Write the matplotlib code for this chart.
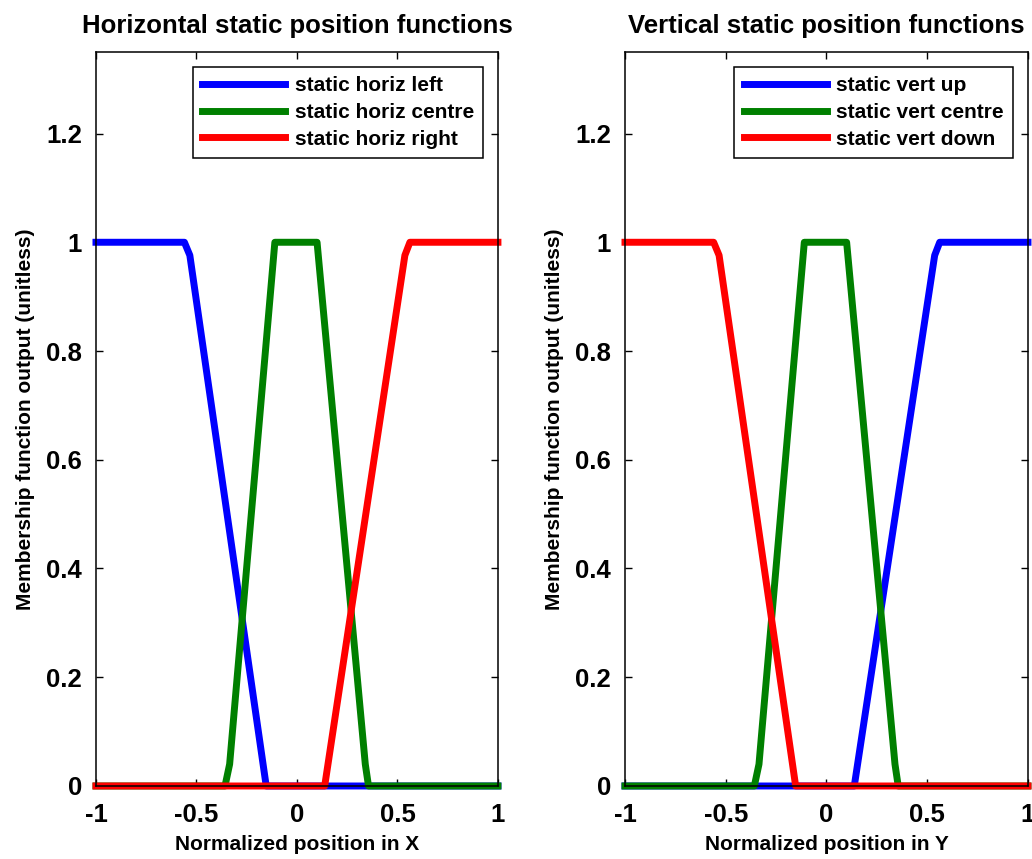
import matplotlib
matplotlib.use("Agg")
from matplotlib import pyplot as plt

# trapezoid vertices of the three position membership functions
left_x = [-1, -0.56, -0.533, -0.153, 1]
left_y = [1, 1, 0.976, 0, 0]
centre_x = [-1, -0.358, -0.335, -0.11, 0.1, 0.34, 0.356, 1]
centre_y = [0, 0, 0.04, 1, 1, 0.04, 0, 0]
right_x = [-1, 0.138, 0.537, 0.562, 1]
right_y = [0, 0, 0.976, 1, 1]

xticks = [-1, -0.5, 0, 0.5, 1]
xticklabels = ["-1", "-0.5", "0", "0.5", "1"]
yticks = [0, 0.2, 0.4, 0.6, 0.8, 1, 1.2]
yticklabels = ["0", "0.2", "0.4", "0.6", "0.8", "1", "1.2"]

plt.rcParams['font.family'] = ['Liberation Sans', 'DejaVu Sans']
plt.rcParams['font.weight'] = 'bold'

fig = plt.figure(figsize=(10.32, 8.59), dpi=100)
ax1 = fig.add_axes([0.093, 0.085, 0.3895, 0.8545])
ax2 = fig.add_axes([0.6056, 0.085, 0.3905, 0.8545])

colors = {"b": (0, 0, 1), "g": (0, 0.5, 0), "r": (1, 0, 0)}

panels = [
    (ax1, "Horizontal static position functions", "Normalized position in X",
     [(left_x, left_y, "b", "static horiz left"),
      (centre_x, centre_y, "g", "static horiz centre"),
      (right_x, right_y, "r", "static horiz right")]),
    (ax2, "Vertical static position functions", "Normalized position in Y",
     [(right_x, right_y, "b", "static vert up"),
      (centre_x, centre_y, "g", "static vert centre"),
      (left_x, left_y, "r", "static vert down")]),
]

for ax, title, xlabel, series in panels:
    for xs, ys, col, lab in series:
        ax.plot(xs, ys, color=colors[col], linewidth=5, label=lab,
                solid_joinstyle='round', clip_on=False)
    ax.set_xlim(-1, 1)
    ax.set_ylim(0, 1.35)
    ax.set_xticks(xticks)
    ax.set_xticklabels(xticklabels)
    ax.set_yticks(yticks)
    ax.set_yticklabels(yticklabels)
    ax.tick_params(direction='in', length=5, width=1, top=True, right=True,
                   labelsize=18.5, pad=10)
    ax.tick_params(axis='x', pad=12)
    for s in ax.spines.values():
        s.set_linewidth(1.1)
    ax.set_title(title, fontsize=18.5, fontweight='bold', pad=14)
    ax.set_xlabel(xlabel, fontsize=15, fontweight='bold', labelpad=6)
    ax.set_ylabel("Membership function output (unitless)", fontsize=15,
                  fontweight='bold', labelpad=8)
    leg = ax.legend(loc='upper right', fontsize=15, fancybox=False,
                    edgecolor='black', framealpha=1, handlelength=4,
                    handletextpad=0.45, borderaxespad=0.7, borderpad=0.45,
                    labelspacing=0.38)
    leg.get_frame().set_linewidth(1.1)
    for t in leg.get_texts():
        t.set_fontweight('bold')

plt.savefig("out.png", dpi=100)
